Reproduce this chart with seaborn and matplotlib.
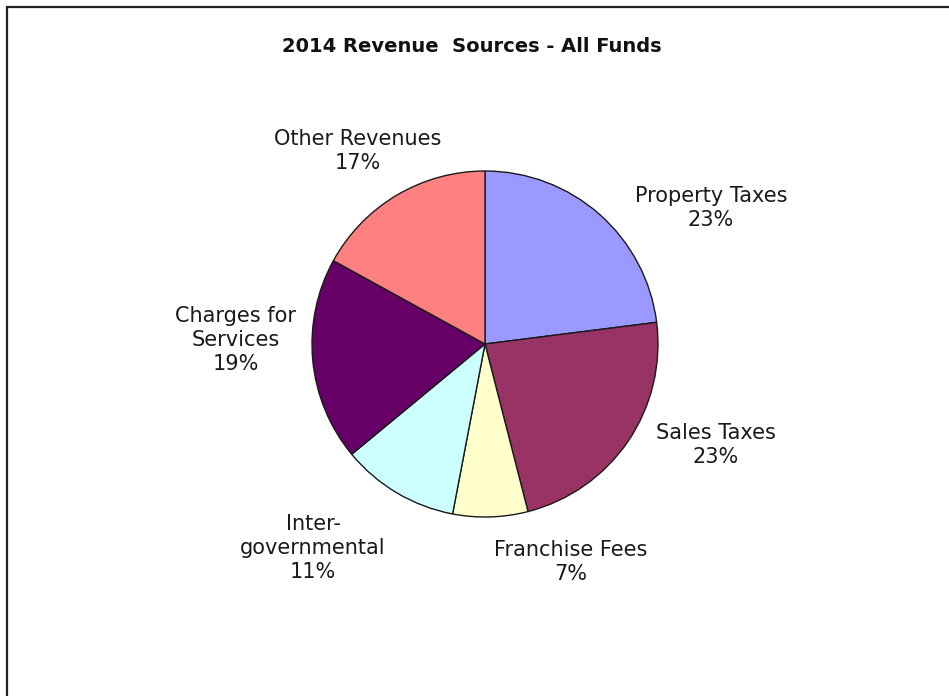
import matplotlib
matplotlib.use("Agg")
import matplotlib.pyplot as plt
from matplotlib.lines import Line2D
import seaborn as sns

sns.set_theme(style="white")
plt.rcParams["font.family"] = ["DejaVu Sans"]

# Revenue shares by source (percent), clockwise from 12 o'clock
categories = ["Property Taxes", "Sales Taxes", "Franchise Fees",
              "Inter-\ngovernmental", "Charges for\nServices", "Other Revenues"]
shares = [23, 23, 7, 11, 19, 17]
colors = ["#9999FF", "#993366", "#FFFFCC", "#CCFFFF", "#660066", "#FF8080"]
title = "2014 Revenue  Sources - All Funds"

W, H = 949, 696
fig = plt.figure(figsize=(W / 100, H / 100), dpi=100)
fig.patch.set_facecolor("white")

# Axes spanning the whole canvas, in pixel-like units (y grows upward)
ax = fig.add_axes([0, 0, 1, 1])

cx, cy, r = 485, H - 344, 173
wedges, _ = ax.pie(
    shares, colors=colors, startangle=90, counterclock=False,
    center=(cx, cy), radius=r, frame=True,
    wedgeprops=dict(edgecolor="#1a1a1a", linewidth=1.0),
)
ax.set_xlim(0, W)
ax.set_ylim(0, H)
ax.set_aspect("equal")
ax.axis("off")

# Label anchor points (centre of each text block)
label_pos = [(711, H - 208), (716, H - 445), (571, H - 562),
             (313, H - 548), (236, H - 340), (358, H - 151)]
for name, val, (lx, ly) in zip(categories, shares, label_pos):
    ax.text(lx, ly, f"{name}\n{val}%", ha="center", va="center",
            fontsize=15, color="#1a1a1a", linespacing=1.22)

ax.text(472, H - 47, title, ha="center", va="center",
        fontsize=14, fontweight="bold", color="#111111")

# Chart frame: left and top edges
fx, fy = 6.5 / W, 1 - 6.5 / H
fig.add_artist(Line2D([fx, fx], [0, fy], color="#222222", linewidth=1.6,
                      transform=fig.transFigure))
fig.add_artist(Line2D([fx, 1], [fy, fy], color="#222222", linewidth=1.6,
                      transform=fig.transFigure))

fig.savefig("out.png", dpi=100, facecolor="white")
